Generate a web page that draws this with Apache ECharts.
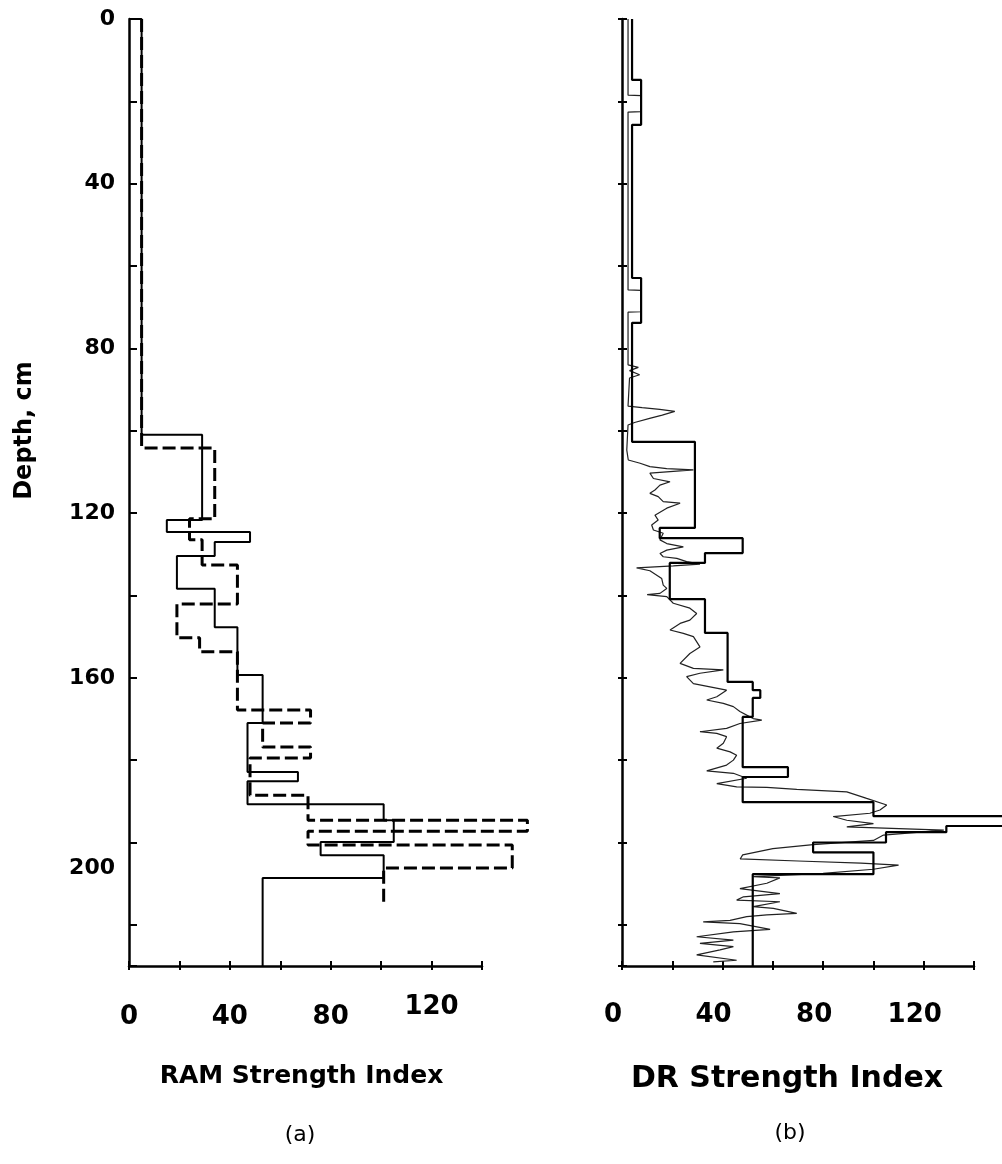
<!DOCTYPE html>
<html><head><meta charset="utf-8">
<script src="https://cdn.jsdelivr.net/npm/echarts@6/dist/echarts.min.js"></script>
<style>html,body{margin:0;padding:0;background:#fff}#c{width:1002px;height:1164px}</style>
</head><body><div id="c"></div>
<script>
// ---------- data ----------
const depthLabels = [0, 40, 80, 120, 160, 200];
const strengthLabels = [0, 40, 80, 120];

// (a) RAM strength index, solid profile: value held between successive depth breaks
const ramSolidValues = [5, 29, 15, 48, 34, 19, 34, 43, 53, 47, 67, 47, 101, 105, 76, 101, 53];
const ramSolidBreaks = [0, 101.0, 121.7, 124.6, 127.0, 130.4, 138.4, 147.7, 159.3, 171.0, 182.9, 185.1, 190.7, 194.6, 199.9, 203.1, 208.6, 230];

// (a) RAM strength index, dashed profile
const ramDashedValues = [5, 34, 24, 29, 43, 19, 28, 43, 72, 53, 72, 48, 71, 158, 71, 152, 101];
const ramDashedBreaks = [0, 104.2, 121.4, 126.5, 132.6, 142.1, 150.3, 153.7, 167.8, 171.0, 176.8, 179.5, 188.5, 194.6, 197.3, 200.6, 206.2, 215.2];

// (b) DR strength index, layered (step) profile
const drStepValues = [4, 7.6, 4, 7.6, 4, 29, 15, 48, 33, 19, 33, 42, 52, 55, 52, 48, 66, 48, 100, 158, 129, 105, 76, 100, 52];
const drStepBreaks = [0, 14.8, 25.7, 62.9, 73.8, 102.7, 123.6, 126.1, 129.7, 132.1, 140.9, 149.1, 161.0, 163.0, 164.9, 169.5, 181.7, 184.1, 190.2, 193.6, 196.0, 197.5, 200.0, 202.4, 207.7, 230];

// (b) DR continuous trace
const drTraceDepth = [0, 18.5, 18.6, 22.5, 22.6, 65.8, 65.9, 71.1, 71.2, 84.0, 84.6, 85.4, 86.4, 87.2, 94.0, 94.4, 94.8, 95.3, 96.2, 97.0, 98.0, 98.6,
  104.7, 107.1, 107.9, 108.7, 109.2, 109.5, 110.3, 111.6, 112.4, 113.2, 114.4, 115.2, 116.0, 117.2, 117.6, 118.8, 120.5, 121.7, 122.9, 124.1, 124.9,
  126.5, 127.4, 128.2, 129.0, 129.8, 130.6, 131.0, 131.8, 132.4, 132.8, 133.3, 134.0, 135.9, 137.5, 138.3, 139.5, 139.8, 140.3, 141.9, 143.1, 144.4,
  146.0, 146.8, 148.4, 149.2, 150.0, 152.5, 154.1, 156.5, 157.7, 158.1, 158.9, 159.7, 161.4, 162.2, 163.0, 164.6, 165.4, 166.2, 167.0, 168.2, 169.5,
  169.9, 170.3, 171.1, 172.3, 173.1, 173.5, 174.3, 175.9, 177.1, 178.0, 178.8, 180.0, 181.2, 182.6, 183.2, 184.4, 185.7, 186.5, 186.6, 187.1, 187.7,
  189.3, 190.9, 192.1, 192.9, 193.7, 194.6, 195.4, 196.2, 197.0, 198.2, 199.5, 200.5, 201.5, 203.0, 204.0, 204.5, 205.0, 205.5, 206.5, 207.5, 208.3,
  208.6, 209.9, 211.2, 212.4, 213.2, 214.0, 214.4, 215.6, 216.0, 217.2, 217.6, 218.0, 218.9, 219.3, 219.7, 221.1, 221.7, 222.9, 223.7, 224.5, 225.3,
  226.1, 227.3, 228.6, 229.0];
const drTraceValue = [2.4, 2.4, 7.6, 7.6, 2.4, 2.4, 7.6, 7.6, 2.4, 2.4, 6.5, 3.0, 7.0, 3.0, 2.4, 8, 15, 21, 16, 11, 5, 2.4,
  1.9, 2.5, 7.2, 11.1, 17.8, 28.4, 11.1, 12.5, 19.1, 15.1, 13.1, 11.1, 14.4, 16.4, 23.1, 17.8, 13.1, 14.4, 11.8, 12.5, 16.4,
  15.1, 17.8, 24.4, 17.8, 15.1, 16.4, 21.8, 25.7, 31.0, 20.4, 5.8, 11.1, 15.8, 16.4, 17.8, 15.1, 10.0, 17.8, 20.4, 27.0, 29.7,
  27.0, 23.1, 19.1, 24.4, 28.4, 31.0, 27.0, 23.1, 28.4, 40.3, 31.0, 25.7, 28.4, 35.0, 41.6, 37.7, 33.7, 40.3, 44.3, 46.9, 50.9,
  52.2, 55.6, 46.9, 41.6, 31.0, 37.7, 41.6, 40.3, 37.7, 43.0, 45.6, 44.3, 41.6, 33.7, 44.3, 49.6, 37.7, 45.6, 57.6, 69.5, 89.4,
  97.3, 105.3, 102.6, 98.6, 84.0, 89.4, 100.0, 89.4, 128, 104, 100, 76, 60, 48, 47, 70, 95, 110, 100, 80, 52.2,
  62.8, 57.6, 46.9, 62.8, 48.3, 45.6, 62.8, 52.2, 60.2, 69.5, 57.6, 49.6, 43.0, 32.3, 46.9, 58.9, 44.3, 29.7, 44.3, 31.0, 44.3,
  39.0, 29.7, 45.6, 36.3];

// ---------- helpers ----------
function stepPath(values, breaks, fromAxis) {
  const pts = [];
  if (fromAxis) pts.push([0, breaks[0]]);
  for (let i = 0; i < values.length; i++) {
    pts.push([values[i], breaks[i]]);
    pts.push([values[i], breaks[i + 1]]);
  }
  return pts;
}
const FONT = 'DejaVu Sans';
const BLACK = '#000';
const AX_MAX = 140;      // drawn strength axis
const DATA_MAX = 160;    // series run past the drawn axis end
const DEPTH_MAX = 230;
const labelFont = { fontFamily: FONT, fontWeight: 'bold', fontSize: 26, color: BLACK };

function xAxisMain(grid, name, nameSize, namePad, richLabels) {
  return {
    gridIndex: grid, type: 'value', position: 'bottom', min: 0, max: AX_MAX, interval: 20,
    axisLine: { show: true, onZero: false, lineStyle: { color: BLACK, width: 2.5 } },
    axisTick: { show: true, inside: false, length: 4, lineStyle: { color: BLACK, width: 2 } },
    splitLine: { show: false },
    axisLabel: {
      formatter: v => strengthLabels.includes(v) ? richLabels(v) : '',
      ...labelFont, margin: 28,
      rich: {
        n: { ...labelFont, padding: [10, 0, 0, 0] },
        hi: { ...labelFont, padding: [0, 0, 0, 0] },
        nb: { ...labelFont, padding: [8, 18, 0, 0] }
      }
    },
    name: name, nameLocation: 'middle', nameGap: 98,
    nameTextStyle: { fontFamily: FONT, fontWeight: 'bold', fontSize: nameSize, color: BLACK, padding: namePad }
  };
}
function xAxisInner(grid) {
  return {
    gridIndex: grid, type: 'value', position: 'bottom', min: 0, max: AX_MAX, interval: 20,
    axisLine: { show: false, onZero: false }, axisLabel: { show: false }, splitLine: { show: false },
    axisTick: { show: true, inside: true, length: 5, lineStyle: { color: BLACK, width: 2 } }
  };
}
function hiddenX(grid) {
  return { gridIndex: grid, type: 'value', position: 'bottom', min: 0, max: DATA_MAX, show: false, axisLine: { onZero: false } };
}
function hiddenY(grid) {
  return { gridIndex: grid, type: 'value', position: 'left', inverse: true, min: 0, max: DEPTH_MAX, show: false, axisLine: { onZero: false } };
}
function gridAt(left, width) {
  return { left: left, top: 19, width: width, height: 947, containLabel: false, outerBoundsMode: 'none' };
}

const option = {
  backgroundColor: '#fff',
  animation: false,
  grid: [
    gridAt(129, 353),
    gridAt(622, 352),
    gridAt(129, 353 * DATA_MAX / AX_MAX),
    gridAt(622, 352 * DATA_MAX / AX_MAX)
  ],
  xAxis: [
    xAxisMain(0, 'RAM Strength Index', 25, [0, 8, 0, 0], v => v === 120 ? '{hi|' + v + '}' : '{n|' + v + '}'),
    xAxisInner(0),
    xAxisMain(1, 'DR Strength Index', 30, [0, 22, 0, 0], v => '{nb|' + v + '}'),
    xAxisInner(1),
    hiddenX(2),
    hiddenX(3)
  ],
  yAxis: [
    {
      gridIndex: 0, type: 'value', position: 'left', inverse: true, min: 0, max: DEPTH_MAX, interval: 20,
      axisLine: { show: true, onZero: false, lineStyle: { color: BLACK, width: 2.5 } },
      axisTick: { show: true, inside: true, length: 8, lineStyle: { color: BLACK, width: 2 } },
      splitLine: { show: false },
      axisLabel: {
        formatter: v => depthLabels.includes(v) ? (v === 200 ? '{lo|' + v + '}' : '{d|' + v + '}') : '',
        fontFamily: FONT, fontWeight: 'bold', fontSize: 22, color: BLACK, margin: 14,
        rich: {
          d: { fontFamily: FONT, fontWeight: 'bold', fontSize: 22, color: BLACK },
          lo: { fontFamily: FONT, fontWeight: 'bold', fontSize: 22, color: BLACK, padding: [52, 0, 0, 0] }
        }
      },
      name: 'Depth, cm', nameLocation: 'middle', nameGap: 92, nameRotate: 90,
      nameTextStyle: { fontFamily: FONT, fontWeight: 'bold', fontSize: 24, color: BLACK, padding: [0, 0, 0, 124] }
    },
    {
      gridIndex: 1, type: 'value', position: 'left', inverse: true, min: 0, max: DEPTH_MAX, interval: 20,
      axisLine: { show: true, onZero: false, lineStyle: { color: BLACK, width: 2.5 } },
      axisTick: { show: true, inside: true, length: 5, lineStyle: { color: BLACK, width: 2 } },
      splitLine: { show: false }, axisLabel: { show: false }
    },
    {
      gridIndex: 1, type: 'value', position: 'left', inverse: true, min: 0, max: DEPTH_MAX, interval: 20,
      axisLine: { show: false, onZero: false },
      axisTick: { show: true, inside: false, length: 4, lineStyle: { color: BLACK, width: 2 } },
      splitLine: { show: false }, axisLabel: { show: false }
    },
    hiddenY(2),
    hiddenY(3)
  ],
  series: [
    {
      name: 'RAM solid', type: 'line', xAxisIndex: 4, yAxisIndex: 3,
      data: stepPath(ramSolidValues, ramSolidBreaks, true),
      showSymbol: false, clip: false, lineStyle: { color: BLACK, width: 2 }
    },
    {
      name: 'RAM dashed', type: 'line', xAxisIndex: 4, yAxisIndex: 3,
      data: stepPath(ramDashedValues, ramDashedBreaks, false),
      showSymbol: false, clip: false, lineStyle: { color: BLACK, width: 3, type: [13, 5] }
    },
    {
      name: 'DR trace', type: 'line', xAxisIndex: 5, yAxisIndex: 4,
      data: drTraceDepth.map((d, i) => [drTraceValue[i], d]),
      showSymbol: false, clip: false, lineStyle: { color: '#222', width: 1.2 }
    },
    {
      name: 'DR step', type: 'line', xAxisIndex: 5, yAxisIndex: 4,
      data: stepPath(drStepValues, drStepBreaks, false),
      showSymbol: false, clip: false, lineStyle: { color: BLACK, width: 2.2 }
    }
  ],
  graphic: [
    { type: 'text', x: 300, y: 1135, style: { text: '(a)', fontFamily: FONT, fontSize: 22, fill: BLACK, align: 'center', verticalAlign: 'middle' } },
    { type: 'text', x: 790, y: 1133, style: { text: '(b)', fontFamily: FONT, fontSize: 22, fill: BLACK, align: 'center', verticalAlign: 'middle' } }
  ]
};
const chart = echarts.init(document.getElementById('c'), null, { renderer: 'canvas', width: 1002, height: 1164 });
chart.setOption(option);
</script>
</body></html>
